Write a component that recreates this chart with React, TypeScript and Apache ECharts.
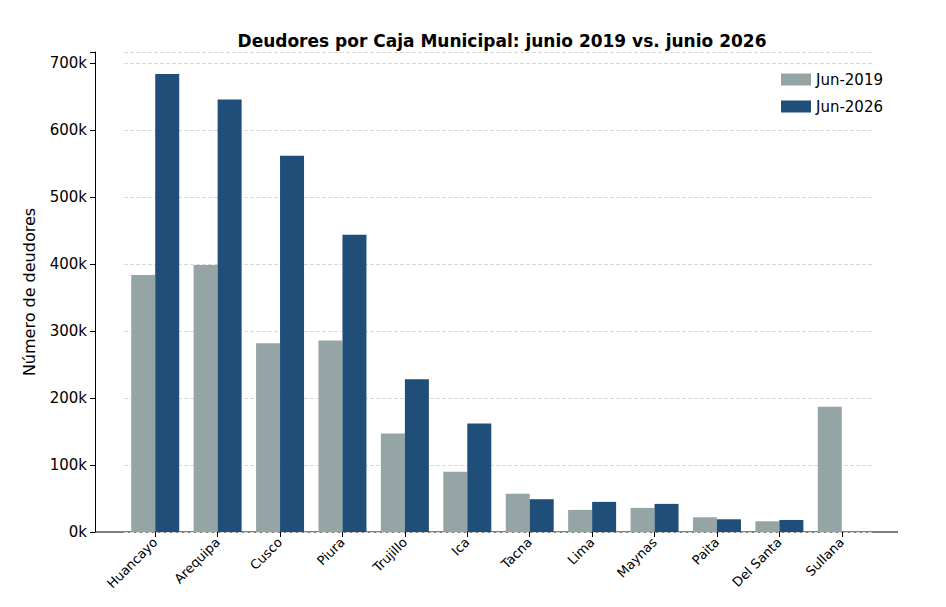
import { useEffect, useRef } from "react";
import * as echarts from "echarts";

const categories = ["Huancayo", "Arequipa", "Cusco", "Piura", "Trujillo", "Ica", "Tacna", "Lima", "Maynas", "Paita", "Del Santa", "Sullana"];
const jun2019 = [384000, 399000, 282000, 286000, 147000, 90000, 57000, 33000, 36000, 22000, 16000, 187000];
const jun2026 = [684000, 646000, 562000, 444000, 228000, 162000, 49000, 45000, 42000, 19000, 18000, null];

const font = "DejaVu Sans, sans-serif";

export default function App() {
  const chartRef = useRef<HTMLDivElement>(null);

  useEffect(() => {
    document.body.style.margin = "0";
    if (!chartRef.current) return;
    const chart = echarts.init(chartRef.current, undefined, { renderer: "svg" });
    chart.setOption({
      animation: false,
      textStyle: { fontFamily: font },
      title: {
        text: "Deudores por Caja Municipal: junio 2019 vs. junio 2026",
        left: 497, top: 27, textAlign: "center",
        textStyle: { fontSize: 17, fontWeight: "bold", color: "#000", fontFamily: font },
      },
      legend: {
        right: 58, top: 67, orient: "vertical", icon: "rect", itemWidth: 30, itemHeight: 12, itemGap: 12,
        textStyle: { fontSize: 15, color: "#000", fontFamily: font },
        data: ["Jun-2019", "Jun-2026"],
      },
      grid: { left: 124, right: 73, top: 52, bottom: 75 },
      xAxis: {
        type: "category",
        data: categories,
        axisLine: { show: false },
        axisTick: { show: true, alignWithLabel: true, length: 5, lineStyle: { color: "#000" } },
        axisLabel: { rotate: 45, color: "#000", fontSize: 13, margin: 8, interval: 0 },
      },
      yAxis: {
        type: "value", min: 0, max: 717000, interval: 100000, offset: 29,
        name: "Número de deudores", nameLocation: "middle", nameGap: 58,
        nameTextStyle: { fontSize: 16, color: "#000" },
        axisLine: { show: true, lineStyle: { color: "#000" } },
        axisTick: { show: true, length: 5, lineStyle: { color: "#000" } },
        axisLabel: { color: "#000", fontSize: 15, formatter: (v: number) => (v % 100000 === 0 ? `${v / 1000}k` : "") },
        splitLine: { show: true, lineStyle: { type: "dashed", color: "#d9d9d9" } },
      },
      graphic: [
        { type: "line", shape: { x1: 95, y1: 532, x2: 898, y2: 532 }, style: { stroke: "#000", lineWidth: 1 } },
      ],
      series: [
        { name: "Jun-2019", type: "bar", data: jun2019, barWidth: 24, barGap: "0%", itemStyle: { color: "#95a5a6" } },
        { name: "Jun-2026", type: "bar", data: jun2026, barWidth: 24, itemStyle: { color: "#1f4e79" } },
      ],
    });
    return () => chart.dispose();
  }, []);

  return <div ref={chartRef} style={{ width: 946, height: 607 }} />;
}
